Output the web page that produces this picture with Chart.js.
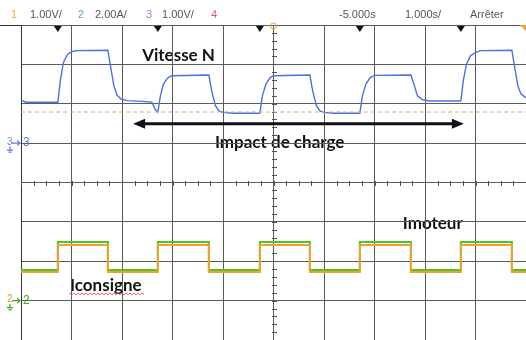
<!DOCTYPE html>
<html>
<head>
<meta charset="utf-8">
<script src="https://cdn.jsdelivr.net/npm/chart.js@4"></script>
<style>
  body { margin: 0; background: #fff; }
  canvas { display: block; }
</style>
</head>
<body>
<canvas id="scope" width="526" height="340"></canvas>
<script>
// time in divisions (1 s/div), amplitude in vertical divisions
const speedT = [0, 0.1, 0.73, 0.78, 0.84, 0.92, 1.0, 1.1, 1.72, 1.78, 1.84, 1.9, 1.98, 2.1, 2.4, 2.59, 2.66, 2.71, 2.76, 2.82, 2.9, 2.98, 3.72, 3.78, 3.85, 3.92, 4.0, 4.2, 4.73, 4.78, 4.85, 4.93, 5.0, 5.72, 5.78, 5.85, 5.92, 6.0, 6.2, 6.71, 6.76, 6.83, 6.91, 7.0, 7.72, 7.78, 7.85, 7.95, 8.1, 8.71, 8.76, 8.82, 8.9, 9.0, 9.1, 9.72, 9.78, 9.84, 9.9, 10];
const speedV = [2.09, 2.04, 2.04, 2.6, 3.05, 3.25, 3.32, 3.35, 3.36, 2.9, 2.45, 2.22, 2.12, 2.08, 2.06, 2.04, 1.85, 1.79, 2.2, 2.5, 2.65, 2.71, 2.73, 2.3, 1.95, 1.82, 1.78, 1.76, 1.76, 2.2, 2.5, 2.66, 2.71, 2.73, 2.3, 1.95, 1.82, 1.78, 1.76, 1.76, 2.2, 2.5, 2.66, 2.72, 2.73, 2.5, 2.2, 2.1, 2.07, 2.07, 2.6, 3.0, 3.22, 3.3, 3.35, 3.36, 2.9, 2.45, 2.25, 2.15];
const speedRef = 1.79;

const edgeT = [0, 0.73, 1.72, 2.71, 3.72, 4.73, 5.72, 6.71, 7.72, 8.71, 9.72, 10];
const motorI = [-2.22, -1.51, -2.22, -1.51, -2.22, -1.51, -2.22, -1.51, -2.22, -1.51, -2.22, -2.22];
const setpointI = [-2.27, -1.59, -2.27, -1.59, -2.27, -1.59, -2.27, -1.59, -2.27, -1.59, -2.27, -2.27];
const triggerT = [0.73, 2.71, 4.73, 6.71, 8.71];

const header = [
    { text: '1', x: 11, color: '#f0a848' },
    { text: '1.00V/', x: 30, color: '#555' },
    { text: '2', x: 78, color: '#5cb85c' },
    { text: '2.00A/', x: 95, color: '#555' },
    { text: '3', x: 146, color: '#7b8fe0' },
    { text: '1.00V/', x: 162, color: '#555' },
    { text: '4', x: 211, color: '#e0509a' },
    { text: '-5.000s', x: 339, color: '#555' },
    { text: '1.000s/', x: 405, color: '#555' },
    { text: 'Arrêter', x: 470, color: '#555' }
];

const labels = [
    { text: 'Vitesse N', t: 2.4, v: 3.08 },
    { text: 'Impact de charge', t: 3.84, v: 0.88 },
    { text: 'Imoteur', t: 7.56, v: -1.17 },
    { text: 'Iconsigne', t: 0.97, v: -2.75 }
];

const pts = (xs, ys) => xs.map((x, i) => ({ x: x, y: ys[i] }));

const scopeDecor = {
    id: 'scopeDecor',
    beforeDraw(chart) {
        const { ctx, scales: { x, y } } = chart;
        ctx.save();
        ctx.fillStyle = '#111';
        ctx.font = 'bold 17px Lato, "Open Sans", sans-serif';
        labels.forEach(l => ctx.fillText(l.text, x.getPixelForValue(l.t), y.getPixelForValue(l.v)));
        // spell-check squiggle
        const sx0 = x.getPixelForValue(0.97), sx1 = x.getPixelForValue(2.44);
        const sy = y.getPixelForValue(-2.83);
        ctx.strokeStyle = '#e04040';
        ctx.lineWidth = 0.8;
        ctx.beginPath();
        ctx.moveTo(sx0, sy);
        for (let px = sx0, k = 0; px <= sx1; px += 2, k++) {
            ctx.lineTo(px, sy + (k % 2 ? 1 : -1));
        }
        ctx.stroke();
        ctx.restore();
    },
    beforeDatasetsDraw(chart) {
        const { ctx, scales: { x, y } } = chart;
        ctx.save();
        // centre axes with minor ticks
        ctx.strokeStyle = '#555';
        ctx.lineWidth = 1;
        const cx = Math.round(x.getPixelForValue(5)) + 0.5;
        const cy = Math.round(y.getPixelForValue(0)) + 0.5;
        ctx.beginPath();
        for (let t = 0; t <= 10; t += 0.25) {
            const px = Math.round(x.getPixelForValue(t)) + 0.5;
            ctx.moveTo(px, cy - 2.5); ctx.lineTo(px, cy + 2.5);
        }
        for (let v = -4; v <= 4; v += 0.2) {
            const py = Math.round(y.getPixelForValue(v)) + 0.5;
            ctx.moveTo(cx - 2.5, py); ctx.lineTo(cx + 2.5, py);
        }
        ctx.stroke();
        ctx.restore();
    },
    afterDraw(chart) {
        const { ctx, chartArea: a, scales: { x, y } } = chart;
        ctx.save();
        // header strip
        ctx.strokeStyle = '#333';
        ctx.lineWidth = 1;
        ctx.beginPath();
        ctx.moveTo(0, a.top + 0.5); ctx.lineTo(a.left, a.top + 0.5);
        ctx.stroke();
        ctx.font = '11px "Liberation Sans", Arial, sans-serif';
        ctx.textBaseline = 'middle';
        header.forEach(h => {
            ctx.fillStyle = h.color;
            ctx.fillText(h.text, h.x, 15);
        });
        // trigger markers
        ctx.fillStyle = '#111';
        triggerT.forEach(t => {
            const px = x.getPixelForValue(t);
            ctx.beginPath();
            ctx.moveTo(px - 4, a.top + 1);
            ctx.lineTo(px + 4, a.top + 1);
            ctx.lineTo(px, a.top + 7);
            ctx.closePath();
            ctx.fill();
        });
        ctx.strokeStyle = '#f0a040';
        ctx.beginPath();
        ctx.arc(x.getPixelForValue(5), a.top + 1, 3, 0, Math.PI * 2);
        ctx.stroke();
        ctx.fillStyle = '#f0a040';
        ctx.beginPath();
        ctx.moveTo(a.right - 6, a.top);
        ctx.lineTo(a.right, a.top);
        ctx.lineTo(a.right, a.top + 6);
        ctx.closePath();
        ctx.fill();

        // channel ground markers
        const marker = (v, c1, c2, label) => {
            const py = y.getPixelForValue(v);
            ctx.font = '10px "Liberation Sans", Arial, sans-serif';
            ctx.fillStyle = c1;
            ctx.fillText(label, 7, py - 1);
            ctx.strokeStyle = c2;
            ctx.lineWidth = 1.2;
            ctx.beginPath();
            ctx.moveTo(12, py); ctx.lineTo(20, py);
            ctx.moveTo(17, py - 2.5); ctx.lineTo(20, py); ctx.lineTo(17, py + 2.5);
            ctx.moveTo(10, py + 3); ctx.lineTo(10, py + 7);
            ctx.moveTo(7, py + 7); ctx.lineTo(13, py + 7);
            ctx.moveTo(8.5, py + 9); ctx.lineTo(11.5, py + 9);
            ctx.stroke();
            ctx.fillStyle = c2;
            ctx.font = '12px "Liberation Sans", Arial, sans-serif';
            ctx.fillText(label, 23, py);
        };
        marker(1, '#7b8fe0', '#5a78e0', '3');
        marker(-3, '#d8a030', '#3aaa1a', '2');

        // double arrow
        const ax0 = x.getPixelForValue(2.22), ax1 = x.getPixelForValue(8.77);
        const ay = y.getPixelForValue(1.49);
        ctx.strokeStyle = '#111';
        ctx.lineWidth = 3;
        ctx.beginPath();
        ctx.moveTo(ax0 + 8, ay); ctx.lineTo(ax1 - 8, ay);
        ctx.stroke();
        ctx.fillStyle = '#111';
        ctx.beginPath();
        ctx.moveTo(ax0, ay); ctx.lineTo(ax0 + 12, ay - 5); ctx.lineTo(ax0 + 12, ay + 5);
        ctx.closePath();
        ctx.moveTo(ax1, ay); ctx.lineTo(ax1 - 12, ay - 5); ctx.lineTo(ax1 - 12, ay + 5);
        ctx.closePath();
        ctx.fill();
        ctx.restore();
    }
};

new Chart(document.getElementById('scope'), {
    type: 'line',
    data: {
        datasets: [
            {
                label: 'Référence',
                data: pts([0, 10], [speedRef, speedRef]),
                borderColor: '#f5a860',
                borderWidth: 1,
                borderDash: [4, 3]
            },
            {
                label: 'Vitesse N',
                data: pts(speedT, speedV),
                borderColor: '#4a72e8',
                borderWidth: 1.4
            },
            {
                label: 'Iconsigne',
                data: pts(edgeT, setpointI),
                borderColor: '#f0a030',
                borderWidth: 2,
                stepped: 'before'
            },
            {
                label: 'Imoteur',
                data: pts(edgeT, motorI),
                borderColor: '#4cc824',
                borderWidth: 2,
                stepped: 'before'
            }
        ]
    },
    options: {
        responsive: false,
        animation: false,
        events: [],
        layout: { padding: { left: 21, top: 25, right: 0, bottom: 0 } },
        elements: { point: { radius: 0 }, line: { tension: 0 } },
        plugins: { legend: { display: false }, tooltip: { enabled: false } },
        scales: {
            x: {
                type: 'linear',
                min: 0,
                max: 10,
                ticks: { display: false, stepSize: 1 },
                grid: { color: '#5a5a5a', lineWidth: 1, drawTicks: false },
                border: { display: true, color: '#333' }
            },
            y: {
                min: -4,
                max: 4,
                ticks: { display: false, stepSize: 1 },
                grid: { color: '#5a5a5a', lineWidth: 1, drawTicks: false },
                border: { display: true, color: '#333' }
            }
        }
    },
    plugins: [scopeDecor]
});
</script>
</body>
</html>
